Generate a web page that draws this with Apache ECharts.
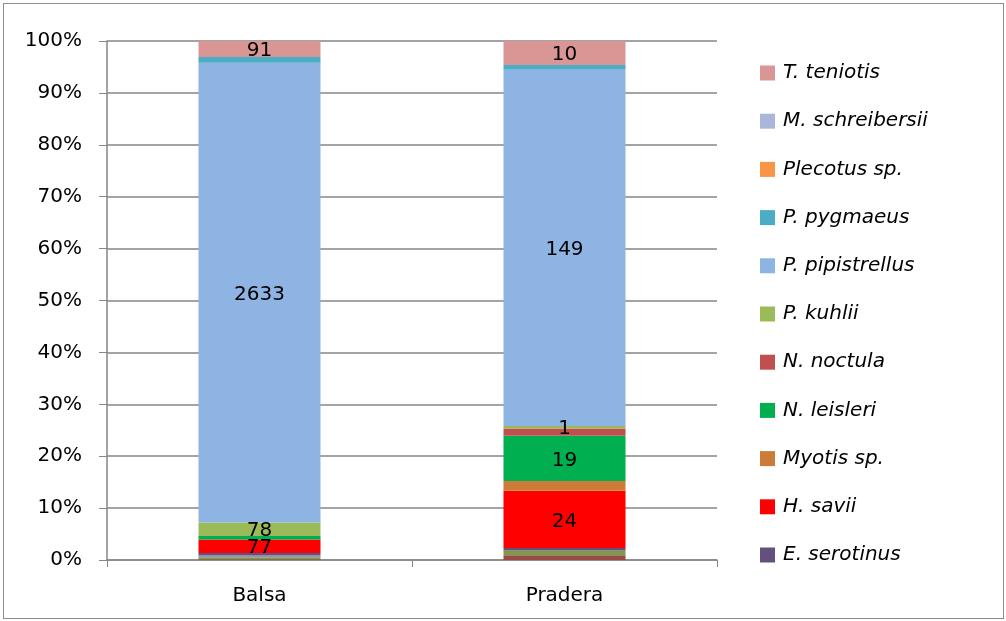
<!DOCTYPE html>
<html lang="es">
<head>
	<meta charset="UTF-8">
	<title>Especies por hábitat</title>
	<script src="https://cdn.jsdelivr.net/npm/echarts@6/dist/echarts.min.js"></script>
	<style>
		html, body { margin: 0; padding: 0; background: #fff; }
		#frame { position: absolute; left: 3px; top: 3px; width: 999px; height: 614px; border: 1px solid #8c8c8c; }
		#bar_charts { position: absolute; left: 0; top: 0; width: 1006px; height: 621px; }
	</style>
</head>
<body>
	<div id="frame"></div>
	<div id="bar_charts"></div>

	<script type="text/javascript">
		// categorias (eje x)
		var sites = ['Balsa', 'Pradera'];

		// especies, de abajo hacia arriba en la columna apilada
		// (las tres primeras no aparecen en la leyenda, que está recortada)
		var species = ['s1', 's2', 's3', 'E. serotinus', 'H. savii', 'Myotis sp.', 'N. leisleri',
			'N. noctula', 'P. kuhlii', 'P. pipistrellus', 'P. pygmaeus', 'Plecotus sp.',
			'M. schreibersii', 'T. teniotis'];
		var legendNames = ['T. teniotis', 'M. schreibersii', 'Plecotus sp.', 'P. pygmaeus',
			'P. pipistrellus', 'P. kuhlii', 'N. noctula', 'N. leisleri', 'Myotis sp.', 'H. savii', 'E. serotinus'];

		// numero de contactos por especie: [Balsa, Pradera]
		var s1 = [5, 2];
		var s2 = [11, 2];
		var s3 = [10, 0];
		var eSerotinus = [14, 1];
		var hSavii = [77, 24];
		var myotisSp = [0, 4];
		var nLeisleri = [20, 19];
		var nNoctula = [0, 3];
		var pKuhlii = [78, 1];
		var pPipistrellus = [2633, 149];
		var pPygmaeus = [33, 2];
		var plecotusSp = [0, 0];
		var mSchreibersii = [0, 0];
		var tTeniotis = [91, 10];

		// etiquetas visibles: [Balsa, Pradera]
		var shownLabels = {
			'T. teniotis': [true, true],
			'P. pipistrellus': [true, true],
			'P. kuhlii': [true, true],
			'N. leisleri': [false, true],
			'H. savii': [true, true]
		};

		var counts = [s1, s2, s3, eSerotinus, hSavii, myotisSp, nLeisleri, nNoctula, pKuhlii,
			pPipistrellus, pPygmaeus, plecotusSp, mSchreibersii, tTeniotis];
		var colors = ['#9a4a44', '#7f9a45', '#8e92bd', '#64507f', '#ff0000', '#cc7b38', '#00b050',
			'#c0504d', '#9bbb59', '#8eb4e3', '#4bacc6', '#f79646', '#a9b8d8', '#d99694'];

		var totals = sites.map(function (s, i) {
			var t = 0;
			counts.forEach(function (c) { t += c[i]; });
			return t;
		});

		var fontName = 'DejaVu Sans';

		var series = species.map(function (name, k) {
			return {
				name: name,
				type: 'bar',
				stack: 'total',
				barWidth: '40%',
				itemStyle: { color: colors[k] },
				data: counts[k].map(function (v, i) {
					var show = shownLabels[name] ? shownLabels[name][i] : false;
					return {
						value: v / totals[i] * 100,
						label: {
							show: show,
							position: 'inside',
							formatter: String(v),
							color: '#000',
							fontFamily: fontName,
							fontSize: 20,
							offset: [0, 2]
						}
					};
				})
			};
		});

		var bar_chart = echarts.init(document.getElementById('bar_charts'));
		var bar_option = {
			animation: false,
			textStyle: { fontFamily: fontName },
			grid: { left: 107, right: 289, top: 41, bottom: 61 },
			legend: {
				orient: 'vertical',
				left: 755,
				top: 58,
				itemWidth: 15,
				itemHeight: 15,
				itemGap: 28.2,
				icon: 'rect',
				data: legendNames,
				textStyle: { fontFamily: fontName, fontStyle: 'italic', fontSize: 20, color: '#000', lineHeight: 20, padding: [0, 0, 0, 3] }
			},
			xAxis: {
				type: 'category',
				data: sites,
				axisLine: { lineStyle: { color: '#868686', width: 1.5 } },
				axisTick: { show: true, length: 7, lineStyle: { color: '#868686' } },
				axisLabel: { color: '#000', fontSize: 20, margin: 26 }
			},
			yAxis: {
				type: 'value',
				min: 0,
				max: 100,
				interval: 10,
				axisLine: { show: true, lineStyle: { color: '#868686', width: 1.5 } },
				axisTick: { show: true, length: 8, lineStyle: { color: '#868686' } },
				splitLine: { lineStyle: { color: '#868686', width: 1.5 } },
				axisLabel: { color: '#000', fontSize: 20, margin: 25, formatter: '{value}%' }
			},
			series: series
		};
		bar_chart.setOption(bar_option);
	</script>
</body>
</html>
